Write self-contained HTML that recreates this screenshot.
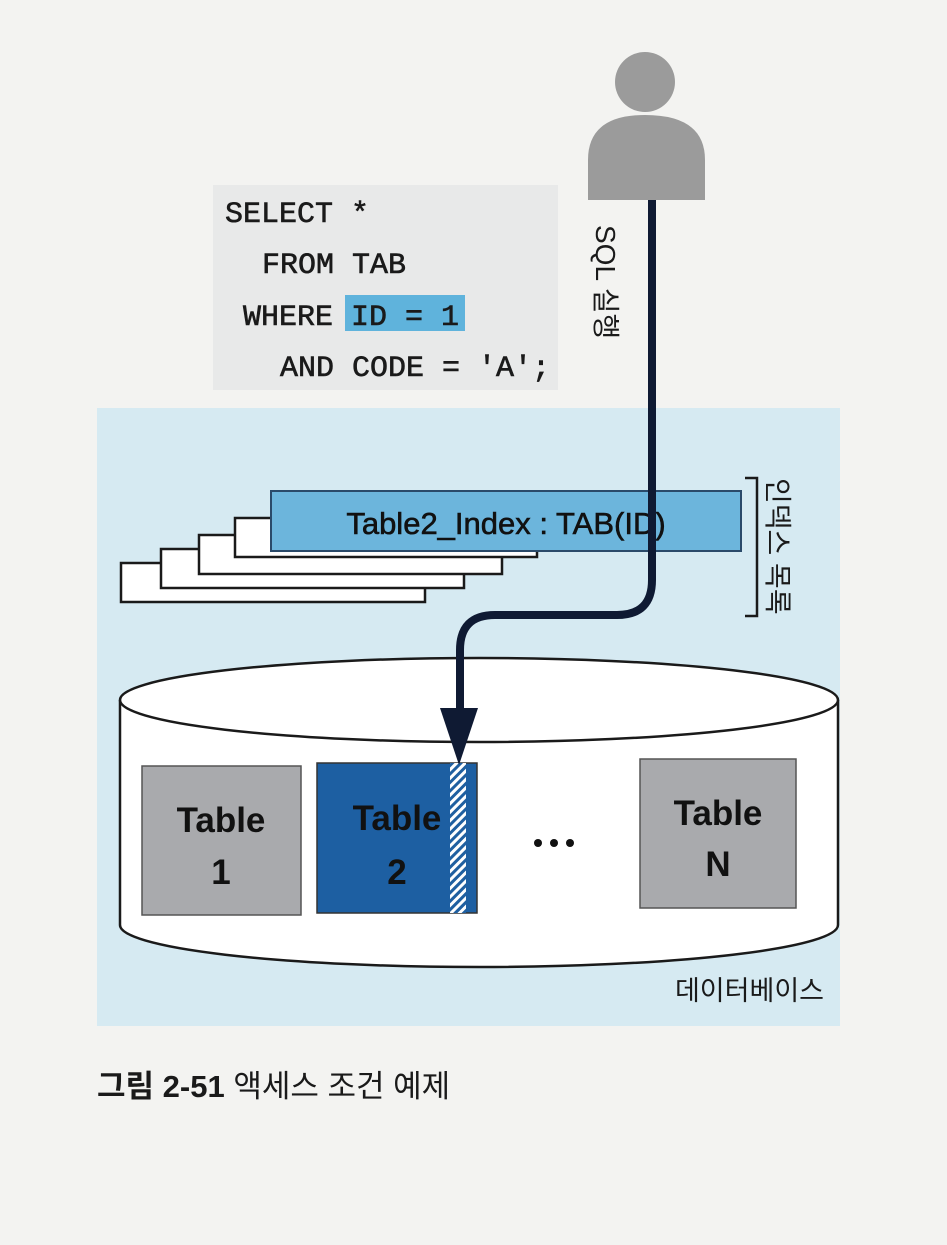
<!DOCTYPE html>
<html><head><meta charset="utf-8"><style>
html,body{margin:0;padding:0;background:#f3f3f1;}
svg{display:block;}
</style></head><body>
<svg width="947" height="1245" viewBox="0 0 947 1245" xmlns="http://www.w3.org/2000/svg">
<defs>
<pattern id="h" width="6" height="6" patternUnits="userSpaceOnUse" patternTransform="rotate(45)">
<rect width="6" height="6" fill="#ffffff"/><rect width="3" height="6" fill="#1f5fa0"/>
</pattern>
</defs>
<rect x="0" y="0" width="947" height="1245" fill="#f3f3f1"/>
<rect x="97" y="408" width="743" height="618" fill="#d6eaf2"/>
<rect x="213" y="185" width="345" height="205" fill="#e8e9e9"/>
<rect x="345" y="295" width="120" height="36" fill="#5fb3dc"/>
<g font-family="Liberation Mono, monospace" font-size="30" fill="#1a1a1a" stroke="#1a1a1a" stroke-width="0.6">
<text x="225" y="222">SELECT *</text>
<text x="262" y="273">FROM TAB</text>
<text x="243" y="325">WHERE ID = 1</text>
<text x="280" y="376">AND CODE = 'A';</text>
</g>
<!-- person -->
<circle cx="645" cy="82" r="30" fill="#9b9b9b"/>
<path d="M588 200 L588 160 Q588 115 645 115 Q705 115 705 160 L705 200 Z" fill="#9b9b9b"/>
<text transform="translate(596,225) rotate(90)" font-family="Liberation Sans, Noto Sans CJK KR, sans-serif" font-size="28" fill="#1a1a1a">SQL 실행</text>
<!-- index stack -->
<g fill="#ffffff" stroke="#1a1a1a" stroke-width="2.5">
<rect x="121" y="563" width="304" height="39"/>
<rect x="161" y="549" width="303" height="39"/>
<rect x="199" y="535" width="303" height="39"/>
<rect x="235" y="518" width="302" height="39"/>
</g>
<rect x="271" y="491" width="470" height="60" fill="#6cb5dc" stroke="#2a4a6a" stroke-width="2"/>
<text x="506" y="534" text-anchor="middle" font-family="Liberation Sans, sans-serif" font-size="31" fill="#111" stroke="#111" stroke-width="0.6">Table2_Index : TAB(ID)</text>
<path d="M745 478 L757 478 L757 616 L745 616" fill="none" stroke="#1a1a1a" stroke-width="2.5"/>
<text transform="translate(768,478) rotate(90)" font-family="Liberation Sans, Noto Sans CJK KR, sans-serif" font-size="28" fill="#1a1a1a">인덱스 목록</text>
<!-- cylinder -->
<path d="M120 700 L120 925 A359 42 0 0 0 838 925 L838 700" fill="#ffffff" stroke="#1a1a1a" stroke-width="2.5"/>
<ellipse cx="479" cy="700" rx="359" ry="42" fill="#ffffff" stroke="#1a1a1a" stroke-width="2.5"/>
<rect x="142" y="766" width="159" height="149" fill="#a9aaad" stroke="#555" stroke-width="1.5"/>
<rect x="317" y="763" width="160" height="150" fill="#1d5fa2" stroke="#333" stroke-width="1.5"/>
<rect x="450" y="763" width="16" height="150" fill="url(#h)"/>
<rect x="640" y="759" width="156" height="149" fill="#a9aaad" stroke="#555" stroke-width="1.5"/>
<g font-family="Liberation Sans, sans-serif" font-size="35" fill="#111" text-anchor="middle" font-weight="bold">
<text x="221" y="832">Table</text><text x="221" y="884">1</text>
<text x="397" y="830">Table</text><text x="397" y="884">2</text>
<text x="718" y="825">Table</text><text x="718" y="876">N</text>
</g>
<g fill="#111"><circle cx="538" cy="843" r="4"/><circle cx="554" cy="843" r="4"/><circle cx="570" cy="843" r="4"/></g>
<!-- connector -->
<path d="M652 200 L652 580 Q652 615 617 615 L495 615 Q460 615 460 650 L460 720" fill="none" stroke="#0f1a33" stroke-width="8"/>
<polygon points="440,708 478,708 459,765" fill="#0f1a33"/>
<text x="824" y="1000" text-anchor="end" font-family="Liberation Sans, Noto Sans CJK KR, sans-serif" font-size="27" fill="#1a1a1a">데이터베이스</text>
<text x="97" y="1097" font-family="Liberation Sans, Noto Sans CJK KR, sans-serif" font-size="31" fill="#1a1a1a"><tspan font-weight="bold">그림 2-51</tspan> 액세스 조건 예제</text>
</svg>
</body></html>
